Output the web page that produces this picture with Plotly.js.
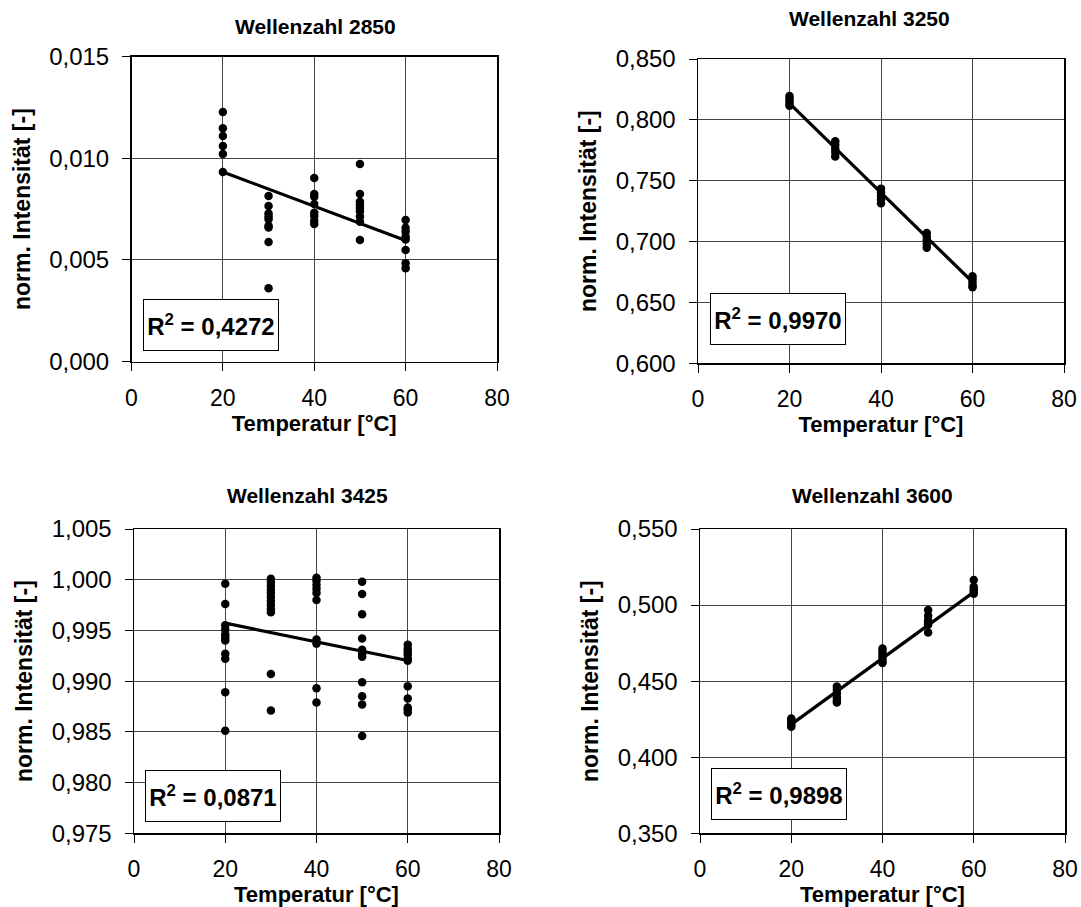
<!DOCTYPE html>
<html>
<head>
<meta charset="utf-8">
<script src="https://cdn.plot.ly/plotly-3.0.1.min.js"></script>
<style>html,body{margin:0;padding:0;background:#fff;}#chart{width:1081px;height:907px;}</style>
</head>
<body>
<div id="chart"></div>
<script>
// ---- data ----
const temperatures = [20, 30, 40, 50, 60];
const trendTemps = [20, 60];

const titles = ['Wellenzahl 2850', 'Wellenzahl 3250', 'Wellenzahl 3425', 'Wellenzahl 3600'];
const r2Values = ['0,4272', '0,9970', '0,0871', '0,9898'];
const xTitle = 'Temperatur [°C]';
const yTitle = 'norm. Intensität [-]';

const vals2850 = [
  [0.01228, 0.01148, 0.01110, 0.01060, 0.01021, 0.00933],
  [0.00814, 0.00765, 0.00728, 0.00712, 0.00700, 0.00668, 0.00660, 0.00588, 0.00360],
  [0.00903, 0.00824, 0.00811, 0.00775, 0.00732, 0.00716, 0.00693, 0.00677],
  [0.00972, 0.00824, 0.00786, 0.00770, 0.00755, 0.00740, 0.00713, 0.00688, 0.00598],
  [0.00696, 0.00658, 0.00639, 0.00614, 0.00601, 0.00549, 0.00483, 0.00459]
];
const vals3250 = [
  [0.8195, 0.8175, 0.8155, 0.8135, 0.8115],
  [0.7825, 0.7795, 0.7765, 0.7735, 0.7700],
  [0.7435, 0.7405, 0.7375, 0.7345, 0.7315],
  [0.7070, 0.7040, 0.7010, 0.6980, 0.6950],
  [0.6715, 0.6690, 0.6665, 0.6640, 0.6625]
];
const vals3425 = [
  [0.9996, 0.9976, 0.9955, 0.9951, 0.9946, 0.9943, 0.9940, 0.9927, 0.9922, 0.9889, 0.9851],
  [1.0001, 0.9998, 0.9994, 0.9990, 0.9987, 0.9983, 0.9979, 0.9975, 0.9971, 0.9968, 0.9907, 0.9871],
  [1.0002, 0.9999, 0.9995, 0.9991, 0.9987, 0.9980, 0.9941, 0.9937, 0.9893, 0.9879],
  [0.9998, 0.9986, 0.9966, 0.9942, 0.9931, 0.9927, 0.9924, 0.9899, 0.9885, 0.9877, 0.9846],
  [0.9936, 0.9932, 0.9929, 0.9926, 0.9922, 0.9920, 0.9895, 0.9883, 0.9874, 0.9872, 0.9869]
];
const vals3600 = [
  [0.4255, 0.4240, 0.4225, 0.4212, 0.4200],
  [0.4465, 0.4445, 0.4420, 0.4395, 0.4375, 0.4360],
  [0.4715, 0.4695, 0.4675, 0.4655, 0.4635, 0.4620],
  [0.4968, 0.4930, 0.4900, 0.4885, 0.4870, 0.4820],
  [0.5165, 0.5120, 0.5105, 0.5090, 0.5075]
];
const trend2850 = [0.00933, 0.00595];
const trend3250 = [0.8135, 0.6668];
const trend3425 = [0.99572, 0.99204];
const trend3600 = [0.4216, 0.5085];

const yRanges = [[0, 0.015], [0.6, 0.85], [0.975, 1.005], [0.35, 0.55]];
const yDticks = [0.005, 0.05, 0.005, 0.05];

// ---- layout geometry (pixels) ----
const W = 1081, H = 907;
const panels = [
  {x0: 131.5, x1: 497, y0: 56.7, y1: 361.5, tx: 315, ty: 26, bx: 143, by: 299},
  {x0: 698, x1: 1064, y0: 59, y1: 363.3, tx: 869, ty: 19, bx: 710, by: 293},
  {x0: 134, x1: 499, y0: 529, y1: 833.3, tx: 307, ty: 495, bx: 145, by: 770},
  {x0: 700, x1: 1065, y0: 529, y1: 833.3, tx: 872, ty: 495, bx: 711, by: 768}
];
const px = v => v / W;
const py = v => 1 - v / H;

const FONT = 'Liberation Sans, Arial, sans-serif';
const allVals = [vals2850, vals3250, vals3425, vals3600];
const allTrends = [trend2850, trend3250, trend3425, trend3600];

const traces = [];
const layout = {
  width: W, height: H,
  margin: {l: 0, r: 0, t: 0, b: 0},
  paper_bgcolor: '#ffffff', plot_bgcolor: '#ffffff',
  showlegend: false,
  separators: ',.',
  font: {family: FONT, color: '#000'},
  annotations: []
};

panels.forEach((p, i) => {
  const n = i + 1;
  const xs = [], ys = [];
  allVals[i].forEach((grp, g) => grp.forEach(v => { xs.push(temperatures[g]); ys.push(v); }));
  const xa = 'x' + (n === 1 ? '' : n), ya = 'y' + (n === 1 ? '' : n);
  traces.push({type: 'scatter', mode: 'markers', x: xs, y: ys, xaxis: xa, yaxis: ya,
    marker: {color: '#000', size: 8.5}, hoverinfo: 'x+y'});
  traces.push({type: 'scatter', mode: 'lines', x: trendTemps, y: allTrends[i], xaxis: xa, yaxis: ya,
    line: {color: '#000', width: 3.2}, hoverinfo: 'skip'});

  const axName = n === 1 ? '' : n;
  layout['xaxis' + axName] = {
    domain: [px(p.x0), px(p.x1)], anchor: ya, range: [0, 80], dtick: 20, tick0: 0,
    showgrid: true, gridcolor: '#444', gridwidth: 1, zeroline: false,
    showline: true, linecolor: '#000', linewidth: 1.5, mirror: true,
    ticks: 'outside', ticklen: 8, tickcolor: '#000', tickwidth: 1,
    ticklabelstandoff: 7,
    tickfont: {family: FONT, size: 23, color: '#000'}, fixedrange: true, automargin: false,
    title: {text: '<b>' + xTitle + '</b>', standoff: 4, font: {family: FONT, size: 22, color: '#000'}}
  };
  layout['yaxis' + axName] = {
    domain: [py(p.y1), py(p.y0)], anchor: xa, range: yRanges[i], dtick: yDticks[i], tick0: yRanges[i][0],
    tickformat: '.3f',
    showgrid: true, gridcolor: '#444', gridwidth: 1, zeroline: false,
    showline: true, linecolor: '#000', linewidth: 1.5, mirror: true,
    ticks: 'outside', ticklen: 8, tickcolor: '#000', tickwidth: 1,
    ticklabelstandoff: 8,
    tickfont: {family: FONT, size: 24, color: '#000'}, fixedrange: true, automargin: false,
    title: {text: '<b>' + yTitle + '</b>', standoff: 12, font: {family: FONT, size: 23, color: '#000'}}
  };

  layout.annotations.push({xref: 'paper', yref: 'paper', x: px(p.tx), y: py(p.ty), xanchor: 'center', yanchor: 'middle',
    text: '<b>' + titles[i] + '</b>', showarrow: false, font: {family: FONT, size: 21, color: '#000'}});
  layout.annotations.push({xref: 'paper', yref: 'paper', x: px(p.bx), y: py(p.by), xanchor: 'left', yanchor: 'top',
    text: '<b>R<sup>2</sup> = ' + r2Values[i] + '</b>', showarrow: false, width: 132, height: 48,
    align: 'center', valign: 'middle',
    bgcolor: '#fff', bordercolor: '#000', borderwidth: 1, borderpad: 1,
    font: {family: FONT, size: 24, color: '#000'}});
});

Plotly.newPlot('chart', traces, layout, {displayModeBar: false, staticPlot: true});
</script>
</body>
</html>
